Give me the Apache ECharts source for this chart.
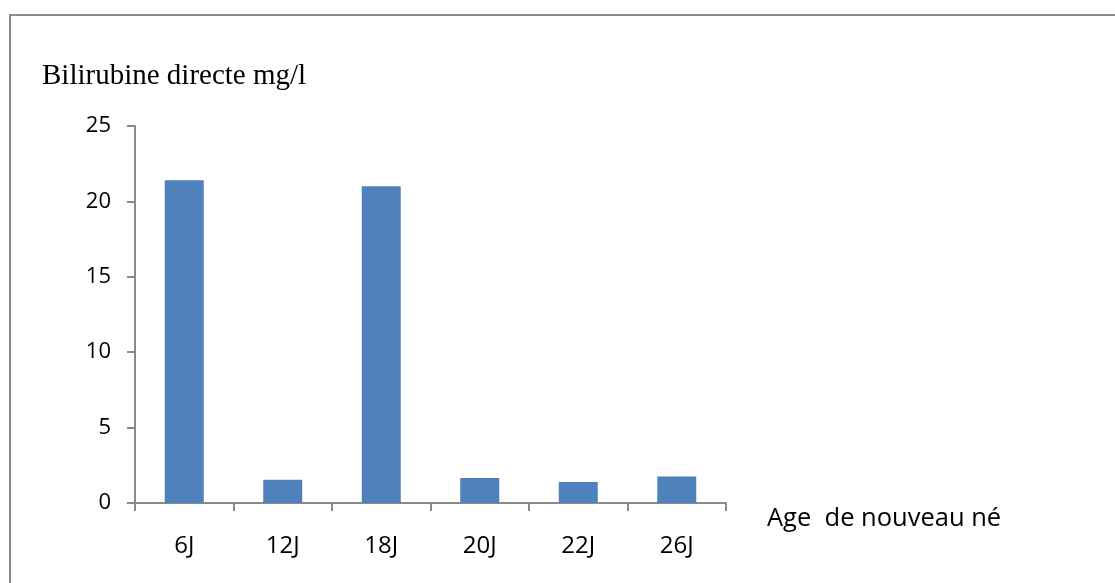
<!DOCTYPE html>
<html>
<head>
<meta charset="utf-8">
<script src="https://cdn.jsdelivr.net/npm/echarts@6/dist/echarts.min.js"></script>
<style>
  html, body { margin: 0; padding: 0; background: #ffffff; }
  #chart { width: 1115px; height: 583px; }
</style>
</head>
<body>
<div id="chart"></div>
<script>
// Direct bilirubin (mg/l) by newborn age
const ages = ['6J', '12J', '18J', '20J', '22J', '26J'];
const bilirubin = [21.4, 1.55, 21.0, 1.65, 1.4, 1.75];
const yTicks = { min: 0, max: 25, step: 5 };

const axisGray = '#8a8a8a';

const chart = echarts.init(document.getElementById('chart'), null, { renderer: 'canvas' });
chart.setOption({
  animation: false,
  backgroundColor: '#ffffff',
  title: {
    text: 'Bilirubine directe mg/l',
    left: 37,
    top: 57,
    textStyle: {
      fontFamily: '"Liberation Serif", "DejaVu Serif", serif',
      fontSize: 29,
      fontWeight: 'normal',
      color: '#000000'
    }
  },
  grid: { left: 135, right: 389, top: 126, bottom: 80 },
  xAxis: {
    type: 'category',
    data: ages,
    axisLine: { lineStyle: { color: axisGray, width: 2 } },
    axisTick: { show: true, length: 8, lineStyle: { color: axisGray, width: 2 } },
    axisLabel: {
      margin: 31,
      fontFamily: '"Open Sans", "Noto Sans", sans-serif',
      fontSize: 24,
      color: '#000000'
    }
  },
  yAxis: {
    type: 'value',
    min: yTicks.min,
    max: yTicks.max,
    interval: yTicks.step,
    splitLine: { show: false },
    axisLine: { show: true, lineStyle: { color: axisGray, width: 2 } },
    axisTick: { show: true, length: 8, lineStyle: { color: axisGray, width: 2 } },
    axisLabel: {
      margin: 24,
      fontFamily: '"Open Sans", "Noto Sans", sans-serif',
      fontSize: 22,
      color: '#000000'
    }
  },
  series: [{
    type: 'bar',
    data: bilirubin,
    barWidth: 39,
    itemStyle: { color: '#4f81bd' }
  }],
  graphic: [
    {
      type: 'rect',
      shape: { x: 10, y: 15, width: 1200, height: 700 },
      style: { fill: 'none', stroke: '#8c8c8c', lineWidth: 2 },
      silent: true
    },
    {
      type: 'text',
      left: 767,
      top: 506,
      style: {
        text: 'Age  de nouveau né',
        fontFamily: '"Open Sans", "Noto Sans", sans-serif',
        fontSize: 25.5,
        fill: '#000000'
      }
    }
  ]
});
</script>
</body>
</html>
